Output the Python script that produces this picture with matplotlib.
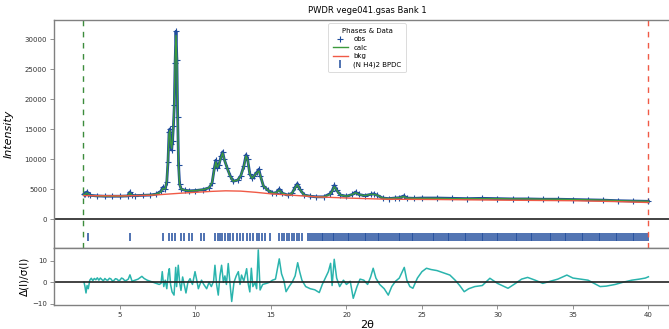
import matplotlib
matplotlib.use("Agg")
import matplotlib.pyplot as plt

tth_obs = [2.6, 2.7, 2.8, 2.9, 3.0, 3.5, 4.0, 4.5, 5.0, 5.5, 5.65, 5.8, 6.0, 6.5, 7.0,
           7.4, 7.7, 7.85, 8.0, 8.1, 8.18, 8.25, 8.3, 8.36, 8.42, 8.48, 8.54, 8.6, 8.65,
           8.71, 8.77, 8.82, 8.88, 8.95, 9.05, 9.3, 9.6, 10.0, 10.5, 10.9, 11.1, 11.25,
           11.35, 11.45, 11.55, 11.7, 11.8, 11.9, 12.1, 12.3, 12.5, 12.8, 13.0, 13.2,
           13.35, 13.45, 13.6, 13.75, 13.9, 14.1, 14.2, 14.3, 14.5, 14.8, 15.1, 15.35,
           15.55, 15.75, 16.1, 16.4, 16.6, 16.75, 16.9, 17.2, 17.6, 18.0, 18.5, 18.9,
           19.05, 19.2, 19.35, 19.6, 20.0, 20.4, 20.6, 20.8, 21.2, 21.6, 21.8, 22.0, 22.4,
           22.8, 23.2, 23.5, 23.8, 24.0, 24.5, 25.0, 26.0, 27.0, 28.0, 29.0, 30.0, 31.0,
           32.0, 33.0, 34.0, 35.0, 36.0, 37.0, 38.0, 39.0, 40.0]
obs = [4100, 4200, 4500, 4200, 3950, 3850, 3800, 3800, 3800, 3850, 4500, 3950, 3900,
       3950, 4000, 4150, 4600, 5300, 5000, 6200, 9500, 14500, 15000, 12500, 11500,
       13000, 15500, 19000, 26000, 31300, 26500, 17000, 9000, 5800, 5000, 4800, 4700,
       4750, 4900, 5200, 6000, 8500, 9800, 8500, 9000, 10500, 11200, 10000, 8500, 7200,
       6300, 6500, 7200, 8800, 10700, 10000, 7500, 6800, 7200, 7900, 8300, 7200, 5500,
       4800, 4300, 4400, 5000, 4300, 4000, 4300, 5300, 5900, 5000, 4000, 3800, 3700,
       3700, 4200, 4700, 5600, 4800, 4000, 3800, 4100, 4500, 4100, 3900, 4100, 4200,
       4000, 3500, 3400, 3500, 3550, 3850, 3500, 3450, 3500, 3500, 3450, 3400, 3450,
       3400, 3350, 3350, 3300, 3300, 3250, 3200, 3150, 3050, 3000, 2950]
calc = [4050, 4150, 4350, 4150, 3950, 3850, 3800, 3800, 3800, 3850, 4350, 3950, 3900,
        3950, 4000, 4150, 4500, 5100, 5000, 6400, 9800, 14200, 14700, 12700, 11800,
        13300, 15800, 19500, 26500, 30600, 26000, 16500, 8800, 5800, 5000, 4800, 4700,
        4750, 4900, 5200, 6100, 8300, 9500, 8600, 9100, 10300, 11000, 10000, 8500, 7100,
        6300, 6500, 7200, 8700, 10500, 9900, 7500, 6800, 7200, 7800, 8000, 7200, 5500,
        4800, 4300, 4400, 4800, 4300, 4000, 4300, 5200, 5700, 5000, 4000, 3800, 3700,
        3700, 4100, 4600, 5400, 4800, 4000, 3800, 4100, 4400, 4100, 3900, 4100, 4100,
        4000, 3500, 3400, 3500, 3550, 3750, 3500, 3450, 3450, 3450, 3400, 3400, 3400,
        3400, 3350, 3350, 3300, 3300, 3250, 3200, 3150, 3050, 3000, 2950]

# background
tth_bkg = [2.6, 5.0, 7.0, 9.0, 11.0, 12.0, 13.0, 14.0, 15.0, 16.8, 18.0, 20.0, 22.6,
           26.0, 30.0, 35.0, 38.0, 40.0]
bkg = [3900, 3850, 3950, 4300, 4600, 4700, 4650, 4450, 4200, 3900, 3700, 3500, 3300,
       3250, 3150, 3050, 2900, 2750]

# reflection positions of (N H4)2 BPDC
refl = [2.9, 5.66, 7.87, 8.27, 8.47, 8.64, 9.04, 9.24, 9.57, 9.75, 10.36, 10.58,
        11.29, 11.47, 11.62, 11.78, 11.95, 12.13, 12.31, 12.51, 12.73, 12.95, 13.17,
        13.39, 13.61, 13.83, 14.05, 14.21, 14.38, 14.6, 14.93,
        15.53, 15.7, 15.88, 16.04, 16.19, 16.37, 16.55, 16.7, 16.86, 17.04,
        17.47, 17.6, 17.72, 17.85, 17.96, 18.1, 18.22, 18.35, 18.47, 18.6, 18.71, 18.84,
        18.97, 19.1, 19.2, 19.33, 19.46, 19.58, 19.7, 19.83, 19.95, 20.08, 20.2, 20.33,
        20.45, 20.56, 20.7, 20.82, 20.95, 21.07, 21.2, 21.32, 21.45, 21.57, 21.7, 21.82,
        21.93, 22.06, 22.18, 22.32, 22.44, 22.56, 22.7, 22.82, 22.94, 23.06, 23.2, 23.32,
        23.45, 23.57, 23.7, 23.82, 23.95, 24.07, 24.2, 24.32, 24.44, 24.57, 24.7, 24.82,
        24.95, 25.07, 25.2, 25.32, 25.44, 25.57, 25.7, 25.82, 25.95, 26.08, 26.2, 26.32,
        26.45, 26.57, 26.7, 26.82, 26.95, 27.07, 27.2, 27.32, 27.45, 27.58, 27.7, 27.82,
        27.95, 28.07, 28.2, 28.32, 28.45, 28.57, 28.7, 28.82, 28.95, 29.07, 29.2, 29.32,
        29.45, 29.57, 29.7, 29.82, 29.95, 30.07, 30.2, 30.32, 30.45, 30.57, 30.7, 30.82,
        30.95, 31.07, 31.2, 31.32, 31.45, 31.57, 31.7, 31.82, 31.95, 32.07, 32.2, 32.32,
        32.45, 32.57, 32.7, 32.82, 32.95, 33.07, 33.2, 33.32, 33.45, 33.57, 33.7, 33.82,
        33.95, 34.07, 34.2, 34.32, 34.45, 34.57, 34.7, 34.82, 34.95, 35.07, 35.2, 35.32,
        35.45, 35.57, 35.7, 35.82, 35.95, 36.07, 36.2, 36.32, 36.45, 36.57, 36.7, 36.82,
        36.95, 37.07, 37.2, 37.32, 37.45, 37.57, 37.7, 37.82, 37.95, 38.07, 38.2, 38.32,
        38.45, 38.57, 38.7, 38.82, 38.95, 39.07, 39.2, 39.32, 39.45, 39.57, 39.7, 39.82,
        39.95]

# difference curve, (obs - calc)/sigma
tth_diff = [2.62, 2.68, 2.75, 2.82, 2.9, 3.0, 3.1, 3.2, 3.3, 3.4, 3.5, 3.6, 3.7, 3.8,
            3.9, 4.0, 4.1, 4.2, 4.3, 4.4, 4.5, 4.6, 4.7, 4.8, 4.9, 5.0, 5.1, 5.2, 5.3,
            5.4, 5.55, 5.66, 5.8, 6.0, 6.2, 6.45, 6.6, 6.8, 7.0, 7.2,
            7.4, 7.6, 7.72, 7.8, 7.9, 8.0, 8.1, 8.2, 8.27, 8.35, 8.45, 8.58, 8.69, 8.75,
            8.86, 8.95, 9.04, 9.15, 9.25, 9.37, 9.5, 9.64, 9.8, 9.97, 10.1, 10.19, 10.4,
            10.55, 10.74, 10.9, 11.05, 11.2, 11.29, 11.4, 11.51, 11.62, 11.73, 11.85,
            11.95, 12.05, 12.17, 12.28, 12.4, 12.55, 12.7, 12.84, 12.95, 13.05, 13.2,
            13.39, 13.5, 13.6, 13.7, 13.8, 13.95, 14.05, 14.16, 14.28, 14.45, 14.7, 14.9,
            15.1, 15.3, 15.55, 15.7, 15.85, 16.0, 16.2, 16.4, 16.6, 16.77, 16.9, 17.05,
            17.3, 17.6, 17.9, 18.2, 18.4, 18.6, 18.8, 18.95, 19.05, 19.19, 19.35, 19.55,
            19.8, 20.0, 20.25, 20.45, 20.7, 20.9, 21.15, 21.4, 21.6, 21.77, 21.95, 22.2,
            22.5, 22.77, 23.0, 23.25, 23.5, 23.83, 24.0, 24.2, 24.4, 24.7, 25.0, 25.3,
            25.6, 26.0, 26.4, 26.85, 27.2, 27.5, 27.8, 28.1, 28.5, 29.0, 29.5, 30.0,
            30.3, 30.7, 31.2, 31.6, 32.0, 32.5, 33.0, 33.5, 34.0, 34.6, 35.0, 35.5, 36.0,
            36.4, 36.8, 37.2, 37.8, 38.3, 38.9, 39.4, 39.8, 40.0]
diff = [0.0, -2.0, -5.0, -1.5, -3.0, 1.0, 1.9, 0.8, 1.8, 1.2, 2.1, 1.0, 2.0, 1.3,
        0.7, 1.8, 1.1, 1.0, 1.9, 1.6, 0.6, 0.9, 1.7, 1.5, 0.8, 1.0, 2.0, 1.7, 0.9,
        0.8, 1.5, 3.5, 0.5, 1.0, 1.5, 2.8, 1.8, 1.0, 0.5, 0.0, -0.5, -1.0,
        -0.5, 5.0, -2.0, 1.0, -3.0, 4.0, 6.4, -1.0, -4.5, -6.0, 7.0, -2.0, 8.0, 0.0,
        -3.8, 2.5, -1.0, -5.0, 0.0, 1.7, -1.0, 5.0, 0.5, -3.0, 1.0, -1.0, -3.0, 0.0,
        -2.0, 0.5, 8.0, -1.0, -6.0, 3.0, 8.0, 0.0, 3.0, -1.0, 8.8, 0.0, -9.0, 0.0, 3.0,
        5.0, -1.0, 3.4, 0.5, 6.4, -1.0, -4.5, 6.6, -2.0, 0.0, -3.0, 15.2, -3.6, -1.0,
        -0.5, 0.0, 1.0, 1.5, 11.0, 4.0, 1.0, -4.4, -2.0, 0.0, 3.0, 9.2, 5.0, 1.0, -2.0,
        -3.0, -3.5, -4.8, -1.0, 2.0, 5.0, 8.9, -1.5, 10.8, 2.0, -2.0, 1.0, -1.0, 0.5,
        -7.5, -2.0, 1.5, 1.0, -1.0, 2.5, 6.6, 2.0, -1.0, -3.0, -6.0, -2.0, 0.5, 2.0,
        7.0, 1.0, -2.0, -2.8, 2.0, 5.0, 6.6, 6.0, 5.5, 4.5, 3.4, 1.0, -1.5, -4.4, -3.0,
        -2.0, -1.5, 1.9, -0.5, -1.5, -2.8, -0.5, 1.5, 2.3, 1.0, -0.5, 0.5, 1.5, 3.4,
        2.0, 1.5, 1.0, -0.5, -2.0, -1.8, -1.0, 0.0, 1.0, 1.5, 2.0, 2.6]

lim_lo, lim_hi = 2.55, 40.0
refl_level = -3000

spine_col = "#808080"
plt.rcParams["font.family"] = "DejaVu Sans"

fig = plt.figure(figsize=(6.69, 3.29), dpi=100)
ax = fig.add_axes([0.0807, 0.2462, 0.9357, 0.6930])
axr = fig.add_axes([0.0807, 0.0739, 0.9357, 0.1723], sharex=ax)

ax.plot(tth_obs, obs, color="#1f4c9c", lw=2.0, zorder=2)
ax.plot(tth_obs, obs, "+", color="#1f4c9c", ms=4, mew=0.8, label="obs", zorder=3)
ax.plot(tth_obs, calc, color="#3c9a3c", lw=1.0, label="calc", zorder=4)
ax.plot(tth_bkg, bkg, color="#f05a46", lw=1.0, label="bkg", zorder=4)
ax.plot(refl, [refl_level] * len(refl), "|", color="#1f4c9c", ms=6, mew=1.1,
        label="(N H4)2 BPDC")
ax.axhline(0, color="#222222", lw=1.2, zorder=1)
ax.axvline(lim_lo, color="#3c8c3c", ls=(0, (4, 4)), lw=1.0)
ax.axvline(lim_hi, color="#f05a46", ls=(0, (4, 4)), lw=1.0)

ax.set_xlim(0.629, 42.09)
ax.set_ylim(-4830, 33170)
ax.set_yticks([0, 5000, 10000, 15000, 20000, 25000, 30000])
ax.set_ylabel("Intensity", fontsize=8, style="italic", labelpad=8)
ax.set_title("PWDR vege041.gsas Bank 1", fontsize=6, pad=5)
ax.tick_params(labelbottom=False, bottom=False)

leg = ax.legend(loc="upper center", fontsize=5, title="Phases & Data",
                title_fontsize=5, handlelength=2.2, borderpad=0.6,
                labelspacing=0.35, bbox_to_anchor=(0.5, 1.0))
leg.get_frame().set_linewidth(0.6)

axr.plot(tth_diff, diff, color="#2ab4ad", lw=1.1)
axr.axhline(0, color="#222222", lw=1.2)
axr.set_ylim(-10.5, 16.1)
axr.set_yticks([-10, 0, 10])
axr.set_xticks([5, 10, 15, 20, 25, 30, 35, 40])
axr.set_xlabel("2θ", fontsize=8, labelpad=2)
axr.set_ylabel("Δ(I)/σ(I)", fontsize=7.5, labelpad=2)

for a in (ax, axr):
    for s in a.spines.values():
        s.set_color(spine_col)
        s.set_linewidth(1.0)
    a.tick_params(labelsize=5, length=3, width=0.6, color=spine_col,
                  labelcolor="#333333", pad=2)

fig.savefig("out.png", dpi=100)
